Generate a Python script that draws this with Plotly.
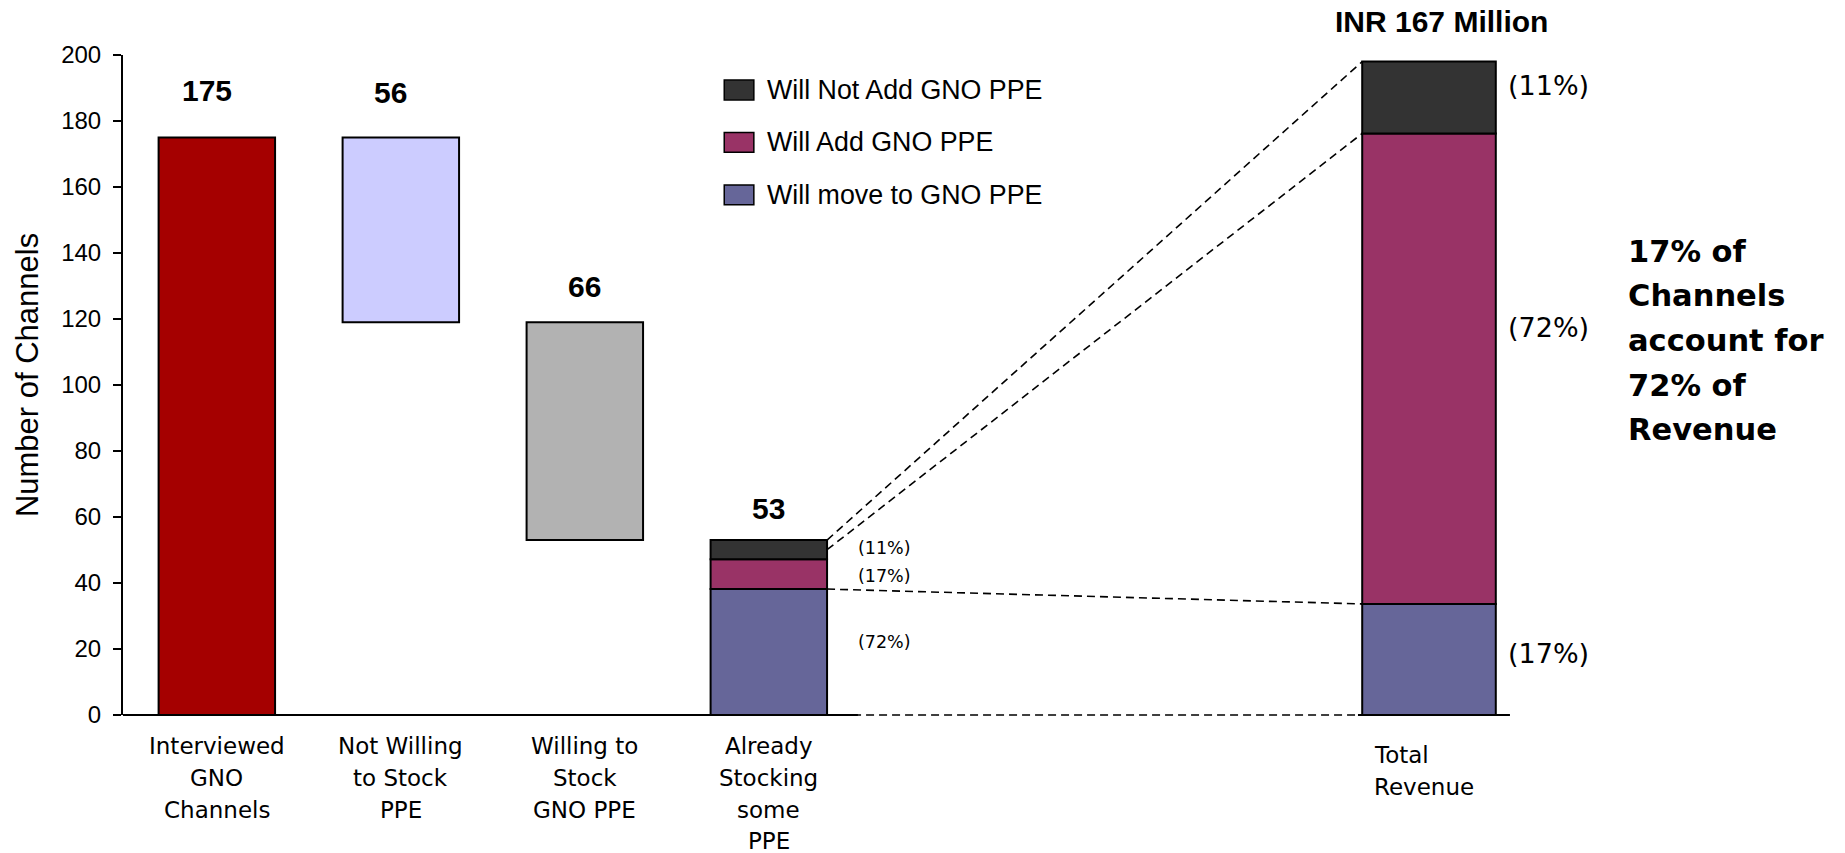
import plotly.graph_objects as go

# ---- data -------------------------------------------------------------
categories = ["Interviewed<br>GNO<br>Channels",
              "Not Willing<br>to Stock<br>PPE",
              "Willing to<br>Stock<br>GNO PPE",
              "Already<br>Stocking<br>some<br>PPE"]
channel_counts = [175, 56, 66, 53]          # headline number above each step

segment_names = ["Will move to GNO PPE", "Will Add GNO PPE", "Will Not Add GNO PPE"]
channel_share = [72, 17, 11]                # % of the 53 stocking channels
revenue_share = [17, 72, 11]                # % of total revenue
revenue_title = "INR 167 Million"
revenue_label = "Total<br>Revenue"
callout = "17% of<br>Channels<br>account for<br>72% of<br>Revenue"

# ---- styling ------------------------------------------------------------
ARIAL = "Liberation Sans, Arial, sans-serif"
DEJAVU = "DejaVu Sans, sans-serif"
step_colors = ["#A50000", "#CCCCFF", "#B2B2B2"]
segment_colors = ["#666699", "#993366", "#333333"]
BAR_W = 0.633
REV_X = 6.588           # position of the revenue column on the x scale
REV_W = 0.726
REV_HEIGHT = 198        # drawn height of the 100% revenue column (axis units)
OUTLINE = dict(color="black", width=2)
PLOT_TOP, PLOT_H = 55, 660   # plot area, pixels


def paper_y(px):
    """Convert a pixel row of the page into a paper y coordinate."""
    return 1 - (px - PLOT_TOP) / PLOT_H


fig = go.Figure()

# waterfall steps: total, then two floating decrements
total = channel_counts[0]
bases = [0, total - channel_counts[1], total - channel_counts[1] - channel_counts[2]]
for i in range(3):
    fig.add_trace(go.Bar(x=[i], y=[channel_counts[i]], base=[bases[i]], width=BAR_W,
                         marker=dict(color=step_colors[i], line=OUTLINE),
                         showlegend=False, hoverinfo="skip"))

# stacked split of the stocking channels, and the revenue column
stock_vals = [channel_counts[3] * p / 100 for p in channel_share]
rev_vals = [REV_HEIGHT * p / 100 for p in revenue_share]
stock_tops, rev_tops = [], []
acc_s = acc_r = 0.0
for name, col, sv, rv in zip(segment_names, segment_colors, stock_vals, rev_vals):
    fig.add_trace(go.Bar(x=[3], y=[sv], base=[acc_s], width=BAR_W, name=name,
                         marker=dict(color=col, line=OUTLINE),
                         showlegend=False, hoverinfo="skip"))
    fig.add_trace(go.Bar(x=[REV_X], y=[rv], base=[acc_r], width=REV_W, name=name,
                         marker=dict(color=col, line=OUTLINE),
                         showlegend=False, hoverinfo="skip"))
    acc_s += sv
    acc_r += rv
    stock_tops.append(acc_s)
    rev_tops.append(acc_r)

# dashed connectors from the stocking bar to the revenue column
s_right = 3 + BAR_W / 2
r_left = REV_X - REV_W / 2
r_right = REV_X + REV_W / 2
dash = dict(color="black", width=1.6, dash="8px,5px")
connectors = [
    ([s_right, r_left], [stock_tops[2], rev_tops[2]]),
    ([s_right, r_left], [(stock_tops[1] + stock_tops[2]) / 2, rev_tops[1]]),
    ([s_right, r_left], [stock_tops[0], rev_tops[0]]),
]
for xs, ys in connectors:
    fig.add_trace(go.Scatter(x=xs, y=ys, mode="lines", line=dash,
                             showlegend=False, hoverinfo="skip"))
# bottom connector runs along the baseline (paper y so it is not clipped)
fig.add_shape(type="line", xref="x", yref="paper", x0=s_right, x1=r_right + 0.07,
              y0=0, y1=0, line=dash)

# baselines (the category axis is split in two)
for x0, x1 in [(-0.51, 3.484), (6.202, 7.028)]:
    fig.add_shape(type="line", xref="x", yref="paper", x0=x0, x1=x1, y0=0, y1=0,
                  line=dict(color="black", width=2))

ann = []
# headline numbers
label_dx = [-10, -10, 0, 0]
label_dy = [47, 45, 36, 32]
tops = [channel_counts[0], channel_counts[0], bases[1], channel_counts[3]]
for i, v in enumerate(channel_counts):
    ann.append(dict(x=i, y=tops[i], text=f"<b>{v}</b>", showarrow=False,
                    xshift=label_dx[i], yshift=label_dy[i], yanchor="middle",
                    font=dict(family=ARIAL, size=30, color="black")))
# category labels, one annotation per line
LINE = 31.8
for i, c in enumerate(categories):
    for j, part in enumerate(c.split("<br>")):
        ann.append(dict(x=i, y=paper_y(746 + j * LINE), yref="paper", text=part,
                        showarrow=False, yanchor="middle", xanchor="center",
                        font=dict(family=DEJAVU, size=23, color="black")))
for j, part in enumerate(revenue_label.split("<br>")):
    ann.append(dict(x=6.278, y=paper_y(755 + j * LINE), yref="paper", text=part,
                    showarrow=False, xanchor="left", yanchor="middle",
                    font=dict(family=DEJAVU, size=23, color="black")))
# percentage labels beside the stocking bar
for p, yy in zip(channel_share, [22.1, 42.2, 50.6]):
    ann.append(dict(x=3.474, y=yy, text=f"({p}%)", showarrow=False,
                    xanchor="left", yanchor="middle",
                    font=dict(family=DEJAVU, size=17.5, color="black")))
# percentage labels beside the revenue column
for p, yy in zip(revenue_share, [18.5, 117.3, 190.9]):
    ann.append(dict(x=r_right, y=yy, text=f"({p}%)", showarrow=False,
                    xanchor="left", yanchor="middle", xshift=10,
                    font=dict(family=DEJAVU, size=27, color="black")))
# revenue title and callout
ann.append(dict(x=6.656, y=paper_y(21), yref="paper", text=f"<b>{revenue_title}</b>",
                showarrow=False, xanchor="center", yanchor="middle",
                font=dict(family=ARIAL, size=30, color="black")))
for j, part in enumerate(callout.split("<br>")):
    ann.append(dict(x=1.046, y=paper_y(251 + j * 44.7), xref="paper", yref="paper",
                    text=f"<b>{part}</b>", showarrow=False,
                    xanchor="left", yanchor="middle",
                    font=dict(family=DEJAVU, size=30.5, color="black")))
# y-axis title
ann.append(dict(x=-0.0668, y=0.515, xref="paper", yref="paper",
                text="Number of Channels", textangle=-90, showarrow=False,
                xanchor="center", yanchor="middle",
                font=dict(family=ARIAL, size=31, color="black")))

# legend, top entry first
leg_x0, leg_x1 = 0.4184, 0.4390
for k, idx in enumerate([2, 1, 0]):
    ymid = 0.947 - k * 0.0795
    fig.add_shape(type="rect", xref="paper", yref="paper",
                  x0=leg_x0, x1=leg_x1, y0=ymid - 0.015, y1=ymid + 0.015,
                  fillcolor=segment_colors[idx], line=dict(color="black", width=1.5))
    ann.append(dict(x=0.4466, y=ymid, xref="paper", yref="paper",
                    text=segment_names[idx], showarrow=False,
                    xanchor="left", yanchor="middle",
                    font=dict(family=ARIAL, size=26.8, color="black")))

fig.update_layout(
    width=1845, height=853, autosize=False,
    margin=dict(l=123, r=285, t=PLOT_TOP, b=853 - PLOT_TOP - PLOT_H),
    paper_bgcolor="white", plot_bgcolor="white",
    barmode="overlay", showlegend=False,
    annotations=ann,
    xaxis=dict(range=[-0.51, 7.30], visible=False, fixedrange=True),
    yaxis=dict(range=[0, 200], tickvals=list(range(0, 201, 20)),
               showgrid=False, zeroline=False, showline=True,
               linecolor="black", linewidth=2, ticks="outside", ticklen=8,
               tickwidth=1.5, tickcolor="black", ticklabelstandoff=7,
               tickfont=dict(family=ARIAL, size=24, color="black"),
               fixedrange=True),
)

fig.write_html("out.html")
